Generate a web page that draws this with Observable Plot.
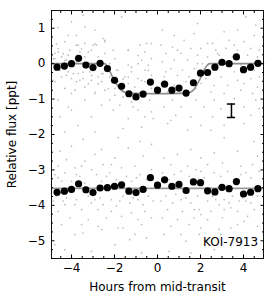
<!DOCTYPE html>
<html>
<head>
<meta charset="utf-8">
<script src="https://cdn.jsdelivr.net/npm/d3@7"></script>
<script src="https://cdn.jsdelivr.net/npm/@observablehq/plot@0.6"></script>
<style>
  html, body { margin: 0; padding: 0; background: white; }
  #chart svg { display: block; }
</style>
</head>
<body>
<div id="chart"></div>
<script>
// ---- data ----
const xTicks = [-4, -2, 0, 2, 4];
const yTicks = [-5, -4, -3, -2, -1, 0, 1];

const binTime = [-4.67,-4.33,-4.00,-3.67,-3.33,-3.00,-2.67,-2.33,-2.00,-1.67,-1.33,-1.00,-0.67,-0.33,0.00,0.33,0.67,1.00,1.33,1.67,2.00,2.33,2.67,3.00,3.33,3.67,4.00,4.33,4.67];
const binTransit = [-0.10,-0.07,0.00,0.15,-0.04,-0.11,0.01,-0.14,-0.47,-0.64,-0.85,-0.94,-0.86,-0.52,-0.75,-0.58,-0.75,-0.69,-0.83,-0.54,-0.27,-0.25,-0.10,0.04,0.00,0.19,-0.17,-0.10,0.01];
const binOffset = [-3.63,-3.60,-3.55,-3.39,-3.56,-3.64,-3.51,-3.50,-3.46,-3.42,-3.60,-3.64,-3.55,-3.22,-3.43,-3.28,-3.46,-3.41,-3.58,-3.34,-3.36,-3.59,-3.62,-3.49,-3.53,-3.33,-3.68,-3.63,-3.53];

const modelTime = [-4.93,-2.45,-2.3,-2.15,-2.0,-1.85,-1.7,-1.55,-1.4,-1.0,0,1.0,1.4,1.55,1.7,1.85,2.0,2.15,2.3,2.42,4.93];
const modelFlux = [0,0,-0.12,-0.30,-0.48,-0.63,-0.74,-0.80,-0.83,-0.84,-0.85,-0.84,-0.83,-0.80,-0.72,-0.58,-0.40,-0.20,-0.05,0,0];
const offsetBaseline = -3.52;

const errX = 3.44, errLo = -1.52, errHi = -1.14, errCap = 0.19;
const koiLabel = "KOI-7913";

const scatterPts = [
[-3.46,1.37],[-1.67,1.32],[-4.00,1.18],[-3.38,1.04],[-4.62,1.02],[-2.91,0.95],[-3.77,0.80],[-4.15,0.80],[-2.53,0.71],[-2.45,0.62],
[-3.38,0.57],[-3.69,0.52],[-2.99,0.52],[-2.84,0.52],[-4.31,0.62],[-0.82,0.52],[-0.51,0.57],[-0.28,0.57],[-1.36,0.38],[-4.62,0.33],
[-3.61,0.33],[-3.07,0.38],[-2.45,0.29],[-4.77,0.29],[-4.15,0.24],[-4.46,0.19],[-3.38,0.19],[-2.76,0.19],[-1.98,0.14],[-0.74,0.10],
[-4.85,0.14],[-4.23,0.10],[-3.77,0.05],[-3.15,0.00],[-2.22,0.00],[-1.36,-0.04],[-0.90,0.00],[-0.43,-0.04],[-4.62,-0.18],[-4.15,-0.23],
[-3.69,-0.28],[-3.15,-0.23],[-2.60,-0.28],[-1.91,-0.18],[-1.21,-0.23],[-0.59,-0.18],[-4.46,-0.37],[-4.00,-0.42],[-3.46,-0.42],[-2.76,-0.37],
[-2.22,-0.37],[-1.52,-0.37],[-0.90,-0.42],[-0.28,-0.33],[-4.77,-0.51],[-3.77,-0.51],[-3.07,-0.47],[-2.60,-0.51],[-1.83,-0.51],[-1.36,-0.56],
[-0.59,-0.51],[-4.31,-0.70],[-3.38,-0.66],[-2.45,-0.75],[-1.98,-0.70],[-1.05,-0.66],[-0.28,-0.70],[-4.00,-0.84],[-2.91,-0.80],[-1.98,-0.89],
[-1.60,-0.94],[-0.59,-0.89],[-0.20,-0.84],[-4.62,-1.03],[-3.38,-1.03],[-2.22,-1.03],[-1.21,-1.08],[-0.36,-1.03],[-4.15,-1.22],[-2.60,-1.17],
[-1.75,-1.17],[-1.13,-1.22],[-4.00,-1.31],[-2.06,-1.31],[-0.90,-1.31],[-0.28,-1.36],[-4.54,-1.50],[-3.07,-1.50],[-1.36,-1.55],[-0.59,-1.50],
[-0.20,-1.55],[-3.69,-1.74],[-1.60,-1.83],[-0.74,-1.79],[-2.91,-1.93],[-4.31,-1.93],
[-4.62,0.42],[-4.39,0.28],[-4.08,0.38],[-3.53,0.42],[-3.22,0.33],[-2.91,0.56],[-2.45,0.66],[-2.06,0.38],[-4.54,-0.19],[-4.23,-0.33],
[-3.92,-0.28],[-3.46,-0.24],[-3.07,-0.33],[-2.53,-0.28],[-4.85,-0.47],[-3.61,-0.47],[-3.22,-0.57],[-2.76,-0.57],[-2.29,-0.71],[-1.60,-0.43],
[-1.21,-0.10],[-0.90,0.23],[-0.59,0.33],[-0.28,0.14],[-4.77,0.14],[-4.31,0.09],[-3.84,-0.75],[-2.91,-0.85],[-1.36,-0.38],[-1.83,-0.19],
[-0.74,-0.47],[-4.70,0.56],[-3.77,0.52],[-1.36,0.38],[-0.43,-0.19],
[1.86,1.13],[4.11,1.32],[4.57,1.09],[0.23,0.95],[0.78,0.80],[1.71,0.85],[3.10,0.90],[3.72,0.95],[4.50,0.80],[1.24,0.66],
[2.33,0.57],[3.33,0.66],[4.03,0.62],[0.16,0.52],[0.70,0.47],[1.55,0.43],[2.02,0.43],[2.71,0.38],[3.18,0.43],[3.72,0.38],
[4.34,0.43],[4.73,0.38],[0.39,0.29],[1.09,0.29],[1.86,0.24],[2.33,0.19],[2.87,0.24],[3.49,0.19],[4.19,0.24],[4.65,0.19],
[0.23,0.05],[0.78,0.10],[1.40,0.10],[2.09,0.00],[3.10,0.00],[3.88,-0.04],[0.62,-0.14],[1.16,-0.18],[1.71,-0.14],[2.64,-0.18],
[3.57,-0.23],[4.50,-0.18],[0.31,-0.37],[0.93,-0.33],[1.47,-0.37],[2.25,-0.42],[2.95,-0.37],[3.72,-0.47],[4.34,-0.42],[4.73,-0.37],
[0.16,-0.56],[0.78,-0.61],[2.02,-0.56],[2.64,-0.61],[3.26,-0.61],[4.03,-0.56],[4.65,-0.66],[0.47,-0.80],[1.24,-0.84],[2.48,-0.80],
[3.10,-0.84],[3.88,-0.75],[4.42,-0.84],[0.70,-1.03],[1.78,-1.03],[2.64,-1.03],[3.57,-0.99],[4.57,-1.03],[0.31,-1.22],[1.09,-1.22],
[2.17,-1.22],[2.95,-1.27],[4.03,-1.22],[4.73,-1.27],[0.85,-1.46],[1.55,-1.50],[2.56,-1.50],[3.49,-1.50],[4.34,-1.46],[0.47,-1.69],
[2.02,-1.74],[3.10,-1.74],[4.03,-1.69],[1.40,-1.88],[2.48,-1.88],[0.62,-1.60],
[0.93,0.38],[2.56,0.57],[3.57,0.52],[1.86,0.00],[2.87,-0.04],[4.19,-0.09],[0.39,-0.23],[1.32,-0.51],[1.78,-0.70],[2.79,0.29],
[-3.46,-2.14],[-1.83,-2.09],[-0.82,-2.19],[-4.54,-2.47],[-4.00,-2.33],[-2.60,-2.42],[-1.36,-2.38],[-0.28,-2.28],[-4.23,-2.71],[-3.38,-2.75],
[-2.91,-2.56],[-1.98,-2.66],[-0.67,-2.61],[-4.62,-2.89],[-3.84,-2.94],[-3.07,-2.99],[-2.53,-2.85],[-1.67,-2.94],[-1.05,-2.89],[-0.28,-2.99],
[-4.77,-3.13],[-4.31,-3.08],[-3.61,-3.18],[-2.84,-3.13],[-2.22,-3.08],[-1.44,-3.18],[-0.82,-3.13],[-4.46,-3.32],[-4.00,-3.32],[-3.38,-3.37],
[-2.60,-3.32],[-1.91,-3.27],[-1.21,-3.32],[-0.51,-3.27],[-4.70,-3.74],[-4.23,-3.79],[-3.77,-3.84],[-3.22,-3.74],[-2.68,-3.79],[-2.14,-3.84],
[-1.60,-3.74],[-1.13,-3.79],[-0.43,-3.74],[-4.85,-3.88],[-4.31,-3.98],[-3.84,-3.98],[-3.07,-3.93],[-2.53,-3.98],[-1.91,-4.02],[-1.29,-3.93],
[-0.67,-3.98],[-0.20,-3.88],[-4.62,-4.17],[-3.53,-4.12],[-2.76,-4.12],[-2.14,-4.17],[-1.21,-4.21],[-0.59,-4.17],[-4.08,-4.35],[-3.22,-4.40],
[-2.37,-4.35],[-1.67,-4.31],[-0.90,-4.40],[-0.28,-4.35],[-4.46,-4.54],[-3.53,-4.54],[-2.76,-4.59],[-1.83,-4.64],[-0.74,-4.54],[-3.84,-4.82],
[-2.60,-4.68],[-1.60,-4.64],[-1.05,-4.82],[-3.46,-4.78],[-1.29,-4.97],[-0.51,-4.92],[-1.98,-5.11],[-4.31,-5.25],[-3.07,-5.30],[-0.74,-5.34],
[-4.77,-5.11],
[-4.62,-3.22],[-3.77,-3.13],[-2.37,-3.18],[-0.98,-3.22],[-4.39,-3.88],[-2.91,-3.84],[-1.75,-3.88],[-0.90,-3.84],[-3.53,-2.89],[-2.14,-2.85],
[3.10,-2.09],[4.50,-2.19],[1.55,-2.42],[0.31,-2.66],[0.93,-2.56],[2.02,-2.66],[2.64,-2.52],[3.72,-2.47],[4.65,-2.61],[0.62,-2.85],
[1.40,-2.89],[2.33,-2.85],[3.02,-2.80],[3.88,-2.89],[4.42,-2.85],[0.23,-3.08],[1.09,-3.04],[1.78,-2.99],[2.64,-3.08],[3.26,-3.04],
[4.11,-3.08],[4.73,-3.04],[0.54,-3.27],[1.47,-3.18],[2.17,-3.22],[2.95,-3.18],[3.64,-3.27],[4.34,-3.22],[0.39,-3.74],[0.85,-3.69],
[1.32,-3.79],[1.86,-3.74],[2.56,-3.74],[3.10,-3.84],[3.49,-3.74],[3.95,-3.79],[4.65,-3.74],[0.16,-3.88],[0.70,-3.93],[1.55,-3.93],
[2.33,-3.88],[2.87,-3.98],[3.33,-3.93],[3.80,-3.88],[4.34,-3.93],[0.47,-4.12],[1.16,-4.17],[1.94,-4.12],[2.48,-4.17],[3.10,-4.12],
[3.72,-4.17],[4.50,-4.12],[0.23,-4.35],[0.93,-4.40],[1.71,-4.35],[2.33,-4.40],[3.02,-4.35],[4.19,-4.31],[0.62,-4.59],[1.47,-4.54],
[2.02,-4.64],[2.87,-4.68],[3.72,-4.54],[4.65,-4.59],[0.31,-4.82],[1.09,-4.82],[1.94,-4.82],[2.95,-4.82],[1.32,-5.01],[2.33,-5.01],
[0.54,-5.30],[1.55,-5.34],[2.64,-5.25],[2.02,-4.26],[3.41,-4.64],[4.03,-4.45],
[0.78,-3.13],[2.02,-3.04],[3.88,-3.13],[1.09,-3.84],[2.71,-3.84],[4.11,-3.88],[1.71,-4.12],[3.41,-4.07]
];

// ---- tables built from arrays ----
const bins = binTime.map((t, i) => ({t, a: binTransit[i], b: binOffset[i]}));
const model = modelTime.map((t, i) => ({t, f: modelFlux[i]}));
const xMinor = d3.range(-4.5, 4.51, 0.5).filter(v => !xTicks.includes(v));
const yMinor = d3.range(-5.5, 1.51, 0.25).filter(v => !yTicks.includes(v));

const chart = Plot.plot({
  width: 274,
  height: 303,
  marginLeft: 51,
  marginRight: 11,
  marginTop: 10,
  marginBottom: 45,
  style: {fontFamily: "DejaVu Sans", fontSize: "12px", background: "white", color: "black", overflow: "visible"},
  x: {domain: [-4.93, 4.93]},
  y: {domain: [-5.5, 1.5]},
  marks: [
    Plot.dot(scatterPts, {x: d => d[0], y: d => d[1], r: 0.85, fill: "#bbbbbb", stroke: null}),
    Plot.line(model, {x: "t", y: "f", stroke: "#8c8c8c", strokeWidth: 1.6, curve: "monotone-x"}),
    Plot.ruleY([offsetBaseline], {stroke: "#9a9a9a", strokeWidth: 1.6}),
    Plot.dot(bins, {x: "t", y: "a", r: 3.6, fill: "black", stroke: null}),
    Plot.dot(bins, {x: "t", y: "b", r: 3.6, fill: "black", stroke: null}),
    Plot.ruleX([errX], {y1: errLo, y2: errHi, stroke: "black", strokeWidth: 1.5}),
    Plot.ruleY([errLo, errHi], {x1: errX - errCap, x2: errX + errCap, stroke: "black", strokeWidth: 1.5}),
    Plot.text([koiLabel], {x: 4.68, y: -5.03, text: d => d, textAnchor: "end", fontSize: 12, fill: "black"}),
    Plot.frame({stroke: "#111", strokeWidth: 1}),
    // inward major/minor ticks on all four sides
    Plot.axisX(xTicks, {anchor: "bottom", tickSize: -3.5, fill: "none", label: null}),
    Plot.axisX(xTicks, {anchor: "top", tickSize: -3.5, fill: "none", label: null}),
    Plot.axisX(xMinor, {anchor: "bottom", tickSize: -2, fill: "none", label: null}),
    Plot.axisX(xMinor, {anchor: "top", tickSize: -2, fill: "none", label: null}),
    Plot.axisY(yTicks, {anchor: "left", tickSize: -3.5, fill: "none", label: null}),
    Plot.axisY(yTicks, {anchor: "right", tickSize: -3.5, fill: "none", label: null}),
    Plot.axisY(yMinor, {anchor: "left", tickSize: -2, fill: "none", label: null}),
    Plot.axisY(yMinor, {anchor: "right", tickSize: -2, fill: "none", label: null}),
    // labels
    Plot.axisX(xTicks, {anchor: "bottom", tickSize: 0, tickPadding: 5, fontSize: 12,
      label: "Hours from mid-transit", labelAnchor: "center", labelOffset: 32, labelArrow: "none"}),
    Plot.axisY(yTicks, {anchor: "left", tickSize: 0, tickPadding: 6, fontSize: 12,
      label: "Relative flux [ppt]", labelAnchor: "center", labelOffset: 44, labelArrow: "none"})
  ]
});
document.getElementById("chart").appendChild(chart);
</script>
</body>
</html>
